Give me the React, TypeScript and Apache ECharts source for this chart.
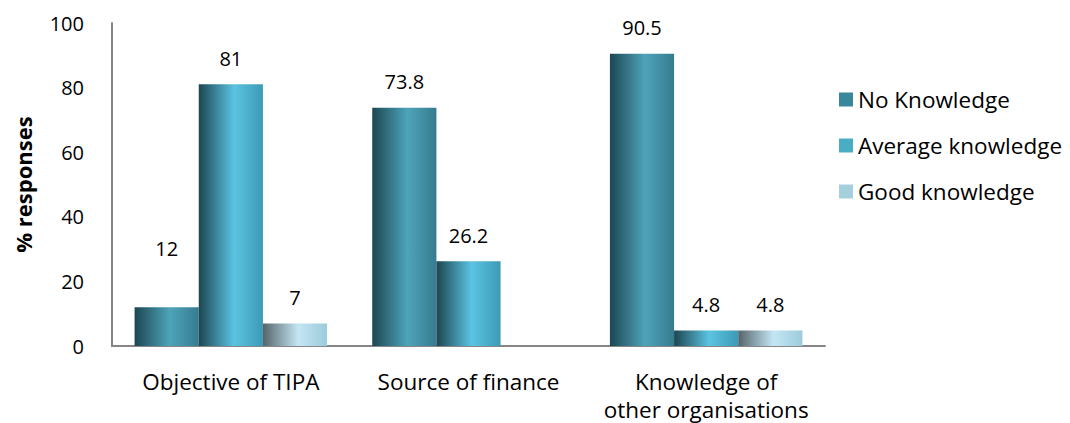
import React, { useEffect, useRef } from "react";
import * as echarts from "echarts";

const categories = ["Objective of TIPA", "Source of finance", "Knowledge of\nother organisations"];
const seriesNames = ["No Knowledge", "Average knowledge", "Good knowledge"];
const noKnowledge = [12, 73.8, 90.5];
const averageKnowledge = [81, 26.2, 4.8];
const goodKnowledge = [7, null, 4.8];
const yTicks = [0, 20, 40, 60, 80, 100];

const FONT = "'Open Sans', 'Noto Sans', sans-serif";

const grad = (a: string, b: string, c: string) =>
  new echarts.graphic.LinearGradient(0, 0, 1, 0, [
    { offset: 0, color: a },
    { offset: 0.55, color: b },
    { offset: 1, color: c },
  ]);

const legendColors = ["#3a869a", "#4bacc6", "#a5cfdd"];
const barFills = [
  ["#1c4753", "#4ea4ba", "#367b8f"],
  ["#1d4652", "#5bc4e2", "#3c9ab6"],
  ["#55646b", "#c4e6f4", "#9ccbdb"],
];

export default function App() {
  const ref = useRef<HTMLDivElement>(null);
  useEffect(() => {
    document.body.style.margin = "0";
    const chart = echarts.init(ref.current!, null, { renderer: "svg" });
    const values = [noKnowledge, averageKnowledge, goodKnowledge];
    chart.setOption({
      animation: false,
      textStyle: { fontFamily: FONT },
      grid: { left: 112, right: 245, top: 23, bottom: 76 },
      legend: {
        orient: "vertical",
        left: 834,
        top: 83,
        itemWidth: 14,
        itemHeight: 14,
        itemGap: 23,
        icon: "rect",
        textStyle: { fontSize: 22.5, color: "#000", fontFamily: FONT },
        data: seriesNames.map((n, i) => ({ name: n, itemStyle: { color: legendColors[i] } })),
      },
      xAxis: {
        type: "category",
        data: categories,
        axisLine: { lineStyle: { color: "#868686", width: 2 } },
        axisTick: { show: false },
        axisLabel: {
          interval: 0,
          hideOverlap: false,
          fontSize: 22.5,
          color: "#000",
          margin: 21,
          lineHeight: 28,
          fontFamily: FONT,
        },
      },
      yAxis: {
        type: "value",
        min: yTicks[0],
        max: yTicks[yTicks.length - 1],
        interval: 20,
        name: "% responses",
        nameLocation: "middle",
        nameGap: 78,
        nameTextStyle: { fontSize: 22, fontWeight: "bold", color: "#000", fontFamily: FONT },
        axisLine: { show: true, lineStyle: { color: "#868686", width: 2 } },
        axisTick: { show: false },
        splitLine: { show: false },
        axisLabel: { fontSize: 20, color: "#000", margin: 28, fontFamily: FONT },
      },
      series: seriesNames.map((name, i) => ({
        name,
        type: "bar",
        barGap: "0%",
        barCategoryGap: "19%",
        itemStyle: { color: grad(barFills[i][0], barFills[i][1], barFills[i][2]) },
        label: {
          show: true,
          position: "top",
          distance: 16,
          fontSize: 20,
          color: "#000",
          fontFamily: FONT,
        },
        data: values[i].map((v, j) =>
          i === 0 && j === 0 ? { value: v, label: { distance: 49 } } : v
        ),
      })),
    });
    return () => chart.dispose();
  }, []);
  return <div ref={ref} style={{ width: 1070, height: 423 }} />;
}
